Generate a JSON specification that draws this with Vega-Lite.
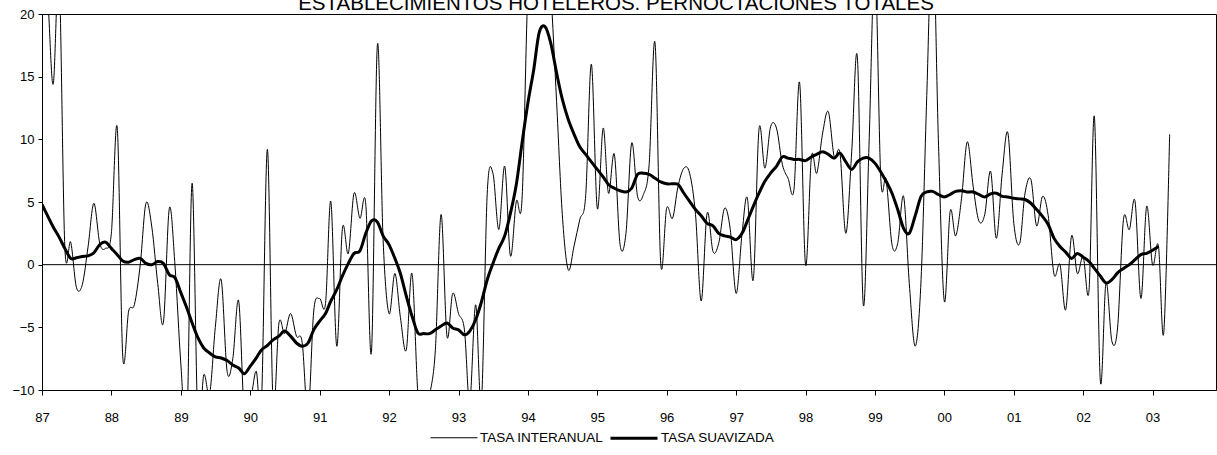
{
"$schema": "https://vega.github.io/schema/vega-lite/v6.json",
"width": 1174, "height": 376,
"autosize": {"type": "none"},
"padding": {"left": 42, "top": 14, "right": 1, "bottom": 65},
"background": "white",
"title": {"text": "ESTABLECIMIENTOS HOTELEROS. PERNOCTACIONES TOTALES", "font": "Liberation Sans", "fontSize": 20.5, "fontWeight": "normal", "color": "black", "anchor": "middle", "dx": -13, "offset": -22, "baseline": "alphabetic"},
"config": {"view": {"stroke": "black", "strokeWidth": 1}, "font": "Liberation Sans"},
"datasets": {"serie": [
{"d":"1987-01-01","TASA INTERANUAL":25,"TASA SUAVIZADA":4.8},
{"d":"1987-02-01","TASA INTERANUAL":21,"TASA SUAVIZADA":3.85},
{"d":"1987-03-01","TASA INTERANUAL":14.4,"TASA SUAVIZADA":3.0},
{"d":"1987-04-01","TASA INTERANUAL":23,"TASA SUAVIZADA":2.2},
{"d":"1987-05-01","TASA INTERANUAL":1.5,"TASA SUAVIZADA":1.3},
{"d":"1987-06-01","TASA INTERANUAL":1.8,"TASA SUAVIZADA":0.5},
{"d":"1987-07-01","TASA INTERANUAL":-1.8,"TASA SUAVIZADA":0.55},
{"d":"1987-08-01","TASA INTERANUAL":-1.6,"TASA SUAVIZADA":0.65},
{"d":"1987-09-01","TASA INTERANUAL":1.5,"TASA SUAVIZADA":0.7},
{"d":"1987-10-01","TASA INTERANUAL":4.9,"TASA SUAVIZADA":0.95},
{"d":"1987-11-01","TASA INTERANUAL":1.7,"TASA SUAVIZADA":1.6},
{"d":"1987-12-01","TASA INTERANUAL":1.3,"TASA SUAVIZADA":1.8},
{"d":"1988-01-01","TASA INTERANUAL":2.5,"TASA SUAVIZADA":1.3},
{"d":"1988-02-01","TASA INTERANUAL":10.9,"TASA SUAVIZADA":0.8},
{"d":"1988-03-01","TASA INTERANUAL":-7.3,"TASA SUAVIZADA":0.3},
{"d":"1988-04-01","TASA INTERANUAL":-3.7,"TASA SUAVIZADA":0.2},
{"d":"1988-05-01","TASA INTERANUAL":-3.2,"TASA SUAVIZADA":0.4},
{"d":"1988-06-01","TASA INTERANUAL":0,"TASA SUAVIZADA":0.5},
{"d":"1988-07-01","TASA INTERANUAL":4.9,"TASA SUAVIZADA":0.1},
{"d":"1988-08-01","TASA INTERANUAL":3.0,"TASA SUAVIZADA":0.0},
{"d":"1988-09-01","TASA INTERANUAL":-1.5,"TASA SUAVIZADA":0.25},
{"d":"1988-10-01","TASA INTERANUAL":-4.6,"TASA SUAVIZADA":0.1},
{"d":"1988-11-01","TASA INTERANUAL":4.5,"TASA SUAVIZADA":-0.8},
{"d":"1988-12-01","TASA INTERANUAL":-0.1,"TASA SUAVIZADA":-1.05},
{"d":"1989-01-01","TASA INTERANUAL":-8.0,"TASA SUAVIZADA":-2.25},
{"d":"1989-02-01","TASA INTERANUAL":-13,"TASA SUAVIZADA":-3.45},
{"d":"1989-03-01","TASA INTERANUAL":6.5,"TASA SUAVIZADA":-4.65},
{"d":"1989-04-01","TASA INTERANUAL":-13,"TASA SUAVIZADA":-5.85},
{"d":"1989-05-01","TASA INTERANUAL":-8.8,"TASA SUAVIZADA":-6.65},
{"d":"1989-06-01","TASA INTERANUAL":-10.3,"TASA SUAVIZADA":-7.05},
{"d":"1989-07-01","TASA INTERANUAL":-5,"TASA SUAVIZADA":-7.35},
{"d":"1989-08-01","TASA INTERANUAL":-1.2,"TASA SUAVIZADA":-7.45},
{"d":"1989-09-01","TASA INTERANUAL":-8.5,"TASA SUAVIZADA":-7.65},
{"d":"1989-10-01","TASA INTERANUAL":-7.5,"TASA SUAVIZADA":-8.0},
{"d":"1989-11-01","TASA INTERANUAL":-2.9,"TASA SUAVIZADA":-8.25},
{"d":"1989-12-01","TASA INTERANUAL":-12,"TASA SUAVIZADA":-8.7},
{"d":"1990-01-01","TASA INTERANUAL":-11,"TASA SUAVIZADA":-8.1},
{"d":"1990-02-01","TASA INTERANUAL":-8.5,"TASA SUAVIZADA":-7.45},
{"d":"1990-03-01","TASA INTERANUAL":-11,"TASA SUAVIZADA":-6.8},
{"d":"1990-04-01","TASA INTERANUAL":9.2,"TASA SUAVIZADA":-6.45},
{"d":"1990-05-01","TASA INTERANUAL":-11,"TASA SUAVIZADA":-6.0},
{"d":"1990-06-01","TASA INTERANUAL":-4.65,"TASA SUAVIZADA":-5.7},
{"d":"1990-07-01","TASA INTERANUAL":-5.5,"TASA SUAVIZADA":-5.3},
{"d":"1990-08-01","TASA INTERANUAL":-3.9,"TASA SUAVIZADA":-5.7},
{"d":"1990-09-01","TASA INTERANUAL":-5.7,"TASA SUAVIZADA":-6.25},
{"d":"1990-10-01","TASA INTERANUAL":-6.2,"TASA SUAVIZADA":-6.5},
{"d":"1990-11-01","TASA INTERANUAL":-12,"TASA SUAVIZADA":-6.25},
{"d":"1990-12-01","TASA INTERANUAL":-3.7,"TASA SUAVIZADA":-5.2},
{"d":"1991-01-01","TASA INTERANUAL":-2.7,"TASA SUAVIZADA":-4.5},
{"d":"1991-02-01","TASA INTERANUAL":-3.1,"TASA SUAVIZADA":-3.9},
{"d":"1991-03-01","TASA INTERANUAL":5.05,"TASA SUAVIZADA":-2.9},
{"d":"1991-04-01","TASA INTERANUAL":-6.5,"TASA SUAVIZADA":-2.0},
{"d":"1991-05-01","TASA INTERANUAL":2.9,"TASA SUAVIZADA":-0.9},
{"d":"1991-06-01","TASA INTERANUAL":0.9,"TASA SUAVIZADA":0.1},
{"d":"1991-07-01","TASA INTERANUAL":5.7,"TASA SUAVIZADA":0.9},
{"d":"1991-08-01","TASA INTERANUAL":3.7,"TASA SUAVIZADA":1.1},
{"d":"1991-09-01","TASA INTERANUAL":4.8,"TASA SUAVIZADA":2.5},
{"d":"1991-10-01","TASA INTERANUAL":-6.9,"TASA SUAVIZADA":3.5},
{"d":"1991-11-01","TASA INTERANUAL":17.55,"TASA SUAVIZADA":3.4},
{"d":"1991-12-01","TASA INTERANUAL":2.0,"TASA SUAVIZADA":2.3},
{"d":"1992-01-01","TASA INTERANUAL":-3.9,"TASA SUAVIZADA":1.6},
{"d":"1992-02-01","TASA INTERANUAL":-0.7,"TASA SUAVIZADA":0.5},
{"d":"1992-03-01","TASA INTERANUAL":-4.2,"TASA SUAVIZADA":-0.7},
{"d":"1992-04-01","TASA INTERANUAL":-6.8,"TASA SUAVIZADA":-2.5},
{"d":"1992-05-01","TASA INTERANUAL":-0.7,"TASA SUAVIZADA":-4.1},
{"d":"1992-06-01","TASA INTERANUAL":-10.3,"TASA SUAVIZADA":-5.45},
{"d":"1992-07-01","TASA INTERANUAL":-13,"TASA SUAVIZADA":-5.5},
{"d":"1992-08-01","TASA INTERANUAL":-10.5,"TASA SUAVIZADA":-5.5},
{"d":"1992-09-01","TASA INTERANUAL":-6.8,"TASA SUAVIZADA":-5.2},
{"d":"1992-10-01","TASA INTERANUAL":4.0,"TASA SUAVIZADA":-4.9},
{"d":"1992-11-01","TASA INTERANUAL":-5.7,"TASA SUAVIZADA":-4.65},
{"d":"1992-12-01","TASA INTERANUAL":-2.3,"TASA SUAVIZADA":-5.05},
{"d":"1993-01-01","TASA INTERANUAL":-3.9,"TASA SUAVIZADA":-5.2},
{"d":"1993-02-01","TASA INTERANUAL":-5.2,"TASA SUAVIZADA":-5.6},
{"d":"1993-03-01","TASA INTERANUAL":-11,"TASA SUAVIZADA":-5.3},
{"d":"1993-04-01","TASA INTERANUAL":-3.2,"TASA SUAVIZADA":-4.4},
{"d":"1993-05-01","TASA INTERANUAL":-11,"TASA SUAVIZADA":-3.0},
{"d":"1993-06-01","TASA INTERANUAL":5.7,"TASA SUAVIZADA":-1.2},
{"d":"1993-07-01","TASA INTERANUAL":7.3,"TASA SUAVIZADA":0.1},
{"d":"1993-08-01","TASA INTERANUAL":2.8,"TASA SUAVIZADA":1.3},
{"d":"1993-09-01","TASA INTERANUAL":7.85,"TASA SUAVIZADA":2.3},
{"d":"1993-10-01","TASA INTERANUAL":0.7,"TASA SUAVIZADA":4.1},
{"d":"1993-11-01","TASA INTERANUAL":5.05,"TASA SUAVIZADA":6.4},
{"d":"1993-12-01","TASA INTERANUAL":5.2,"TASA SUAVIZADA":9.7},
{"d":"1994-01-01","TASA INTERANUAL":22,"TASA SUAVIZADA":12.9},
{"d":"1994-02-01","TASA INTERANUAL":28,"TASA SUAVIZADA":15.6},
{"d":"1994-03-01","TASA INTERANUAL":30,"TASA SUAVIZADA":18.5},
{"d":"1994-04-01","TASA INTERANUAL":28,"TASA SUAVIZADA":19.0},
{"d":"1994-05-01","TASA INTERANUAL":22,"TASA SUAVIZADA":17.7},
{"d":"1994-06-01","TASA INTERANUAL":13,"TASA SUAVIZADA":15.3},
{"d":"1994-07-01","TASA INTERANUAL":4,"TASA SUAVIZADA":13.2},
{"d":"1994-08-01","TASA INTERANUAL":-0.4,"TASA SUAVIZADA":11.6},
{"d":"1994-09-01","TASA INTERANUAL":1.5,"TASA SUAVIZADA":10.4},
{"d":"1994-10-01","TASA INTERANUAL":3.6,"TASA SUAVIZADA":9.4},
{"d":"1994-11-01","TASA INTERANUAL":5.5,"TASA SUAVIZADA":8.8},
{"d":"1994-12-01","TASA INTERANUAL":16.0,"TASA SUAVIZADA":8.2},
{"d":"1995-01-01","TASA INTERANUAL":4.5,"TASA SUAVIZADA":7.6},
{"d":"1995-02-01","TASA INTERANUAL":10.9,"TASA SUAVIZADA":7.0},
{"d":"1995-03-01","TASA INTERANUAL":5.7,"TASA SUAVIZADA":6.4},
{"d":"1995-04-01","TASA INTERANUAL":8.8,"TASA SUAVIZADA":6.1},
{"d":"1995-05-01","TASA INTERANUAL":1.6,"TASA SUAVIZADA":5.9},
{"d":"1995-06-01","TASA INTERANUAL":2.5,"TASA SUAVIZADA":5.8},
{"d":"1995-07-01","TASA INTERANUAL":9.7,"TASA SUAVIZADA":6.1},
{"d":"1995-08-01","TASA INTERANUAL":5.45,"TASA SUAVIZADA":7.2},
{"d":"1995-09-01","TASA INTERANUAL":5.6,"TASA SUAVIZADA":7.3},
{"d":"1995-10-01","TASA INTERANUAL":8,"TASA SUAVIZADA":7.2},
{"d":"1995-11-01","TASA INTERANUAL":17.7,"TASA SUAVIZADA":6.9},
{"d":"1995-12-01","TASA INTERANUAL":0.1,"TASA SUAVIZADA":6.6},
{"d":"1996-01-01","TASA INTERANUAL":4.5,"TASA SUAVIZADA":6.45},
{"d":"1996-02-01","TASA INTERANUAL":3.7,"TASA SUAVIZADA":6.45},
{"d":"1996-03-01","TASA INTERANUAL":6.25,"TASA SUAVIZADA":6.4},
{"d":"1996-04-01","TASA INTERANUAL":7.7,"TASA SUAVIZADA":5.7},
{"d":"1996-05-01","TASA INTERANUAL":7.3,"TASA SUAVIZADA":5.05},
{"d":"1996-06-01","TASA INTERANUAL":4.0,"TASA SUAVIZADA":4.4},
{"d":"1996-07-01","TASA INTERANUAL":-2.9,"TASA SUAVIZADA":3.9},
{"d":"1996-08-01","TASA INTERANUAL":4.1,"TASA SUAVIZADA":3.3},
{"d":"1996-09-01","TASA INTERANUAL":1.05,"TASA SUAVIZADA":3.1},
{"d":"1996-10-01","TASA INTERANUAL":1.7,"TASA SUAVIZADA":2.5},
{"d":"1996-11-01","TASA INTERANUAL":4.5,"TASA SUAVIZADA":2.3},
{"d":"1996-12-01","TASA INTERANUAL":2.8,"TASA SUAVIZADA":2.2},
{"d":"1997-01-01","TASA INTERANUAL":-2.3,"TASA SUAVIZADA":2.0},
{"d":"1997-02-01","TASA INTERANUAL":2.5,"TASA SUAVIZADA":2.5},
{"d":"1997-03-01","TASA INTERANUAL":5.3,"TASA SUAVIZADA":3.5},
{"d":"1997-04-01","TASA INTERANUAL":-1.2,"TASA SUAVIZADA":4.65},
{"d":"1997-05-01","TASA INTERANUAL":10.8,"TASA SUAVIZADA":5.7},
{"d":"1997-06-01","TASA INTERANUAL":7.7,"TASA SUAVIZADA":6.65},
{"d":"1997-07-01","TASA INTERANUAL":11.0,"TASA SUAVIZADA":7.3},
{"d":"1997-08-01","TASA INTERANUAL":10.9,"TASA SUAVIZADA":7.85},
{"d":"1997-09-01","TASA INTERANUAL":8.0,"TASA SUAVIZADA":8.6},
{"d":"1997-10-01","TASA INTERANUAL":6.9,"TASA SUAVIZADA":8.5},
{"d":"1997-11-01","TASA INTERANUAL":6.0,"TASA SUAVIZADA":8.4},
{"d":"1997-12-01","TASA INTERANUAL":14.5,"TASA SUAVIZADA":8.4},
{"d":"1998-01-01","TASA INTERANUAL":0,"TASA SUAVIZADA":8.3},
{"d":"1998-02-01","TASA INTERANUAL":8.6,"TASA SUAVIZADA":8.6},
{"d":"1998-03-01","TASA INTERANUAL":7.3,"TASA SUAVIZADA":8.8},
{"d":"1998-04-01","TASA INTERANUAL":10.5,"TASA SUAVIZADA":9.0},
{"d":"1998-05-01","TASA INTERANUAL":12.2,"TASA SUAVIZADA":8.8},
{"d":"1998-06-01","TASA INTERANUAL":8.6,"TASA SUAVIZADA":8.5},
{"d":"1998-07-01","TASA INTERANUAL":8.9,"TASA SUAVIZADA":8.9},
{"d":"1998-08-01","TASA INTERANUAL":2.5,"TASA SUAVIZADA":8.2},
{"d":"1998-09-01","TASA INTERANUAL":9.0,"TASA SUAVIZADA":7.6},
{"d":"1998-10-01","TASA INTERANUAL":16.5,"TASA SUAVIZADA":8.2},
{"d":"1998-11-01","TASA INTERANUAL":-3.2,"TASA SUAVIZADA":8.5},
{"d":"1998-12-01","TASA INTERANUAL":9.5,"TASA SUAVIZADA":8.5},
{"d":"1999-01-01","TASA INTERANUAL":24,"TASA SUAVIZADA":8.1},
{"d":"1999-02-01","TASA INTERANUAL":6.9,"TASA SUAVIZADA":7.4},
{"d":"1999-03-01","TASA INTERANUAL":6.8,"TASA SUAVIZADA":6.65},
{"d":"1999-04-01","TASA INTERANUAL":1.6,"TASA SUAVIZADA":5.7},
{"d":"1999-05-01","TASA INTERANUAL":1.7,"TASA SUAVIZADA":4.4},
{"d":"1999-06-01","TASA INTERANUAL":5.45,"TASA SUAVIZADA":2.9},
{"d":"1999-07-01","TASA INTERANUAL":-1.5,"TASA SUAVIZADA":2.5},
{"d":"1999-08-01","TASA INTERANUAL":-6.5,"TASA SUAVIZADA":3.9},
{"d":"1999-09-01","TASA INTERANUAL":-1.2,"TASA SUAVIZADA":5.45},
{"d":"1999-10-01","TASA INTERANUAL":13.5,"TASA SUAVIZADA":5.8},
{"d":"1999-11-01","TASA INTERANUAL":27,"TASA SUAVIZADA":5.85},
{"d":"1999-12-01","TASA INTERANUAL":10,"TASA SUAVIZADA":5.6},
{"d":"2000-01-01","TASA INTERANUAL":-2.9,"TASA SUAVIZADA":5.4},
{"d":"2000-02-01","TASA INTERANUAL":4.25,"TASA SUAVIZADA":5.6},
{"d":"2000-03-01","TASA INTERANUAL":2.3,"TASA SUAVIZADA":5.85},
{"d":"2000-04-01","TASA INTERANUAL":5.3,"TASA SUAVIZADA":5.9},
{"d":"2000-05-01","TASA INTERANUAL":9.8,"TASA SUAVIZADA":5.8},
{"d":"2000-06-01","TASA INTERANUAL":6.25,"TASA SUAVIZADA":5.8},
{"d":"2000-07-01","TASA INTERANUAL":3.5,"TASA SUAVIZADA":5.6},
{"d":"2000-08-01","TASA INTERANUAL":4.0,"TASA SUAVIZADA":5.4},
{"d":"2000-09-01","TASA INTERANUAL":7.45,"TASA SUAVIZADA":5.65},
{"d":"2000-10-01","TASA INTERANUAL":2.1,"TASA SUAVIZADA":5.7},
{"d":"2000-11-01","TASA INTERANUAL":7.3,"TASA SUAVIZADA":5.45},
{"d":"2000-12-01","TASA INTERANUAL":10.5,"TASA SUAVIZADA":5.4},
{"d":"2001-01-01","TASA INTERANUAL":3.3,"TASA SUAVIZADA":5.3},
{"d":"2001-02-01","TASA INTERANUAL":1.7,"TASA SUAVIZADA":5.25},
{"d":"2001-03-01","TASA INTERANUAL":5.7,"TASA SUAVIZADA":5.2},
{"d":"2001-04-01","TASA INTERANUAL":6.8,"TASA SUAVIZADA":4.9},
{"d":"2001-05-01","TASA INTERANUAL":3.1,"TASA SUAVIZADA":4.4},
{"d":"2001-06-01","TASA INTERANUAL":5.45,"TASA SUAVIZADA":3.85},
{"d":"2001-07-01","TASA INTERANUAL":3.9,"TASA SUAVIZADA":3.2},
{"d":"2001-08-01","TASA INTERANUAL":-0.8,"TASA SUAVIZADA":2.1},
{"d":"2001-09-01","TASA INTERANUAL":0,"TASA SUAVIZADA":1.45},
{"d":"2001-10-01","TASA INTERANUAL":-3.6,"TASA SUAVIZADA":1.0},
{"d":"2001-11-01","TASA INTERANUAL":2.3,"TASA SUAVIZADA":0.5},
{"d":"2001-12-01","TASA INTERANUAL":-0.7,"TASA SUAVIZADA":0.9},
{"d":"2002-01-01","TASA INTERANUAL":0.65,"TASA SUAVIZADA":0.6},
{"d":"2002-02-01","TASA INTERANUAL":-2.0,"TASA SUAVIZADA":0.25},
{"d":"2002-03-01","TASA INTERANUAL":11.8,"TASA SUAVIZADA":-0.3},
{"d":"2002-04-01","TASA INTERANUAL":-9.2,"TASA SUAVIZADA":-0.9},
{"d":"2002-05-01","TASA INTERANUAL":-1.45,"TASA SUAVIZADA":-1.45},
{"d":"2002-06-01","TASA INTERANUAL":-6.1,"TASA SUAVIZADA":-1.2},
{"d":"2002-07-01","TASA INTERANUAL":-5.05,"TASA SUAVIZADA":-0.65},
{"d":"2002-08-01","TASA INTERANUAL":3.6,"TASA SUAVIZADA":-0.3},
{"d":"2002-09-01","TASA INTERANUAL":2.8,"TASA SUAVIZADA":0.0},
{"d":"2002-10-01","TASA INTERANUAL":5.05,"TASA SUAVIZADA":0.4},
{"d":"2002-11-01","TASA INTERANUAL":-2.7,"TASA SUAVIZADA":0.8},
{"d":"2002-12-01","TASA INTERANUAL":4.65,"TASA SUAVIZADA":0.9},
{"d":"2003-01-01","TASA INTERANUAL":0,"TASA SUAVIZADA":1.15},
{"d":"2003-02-01","TASA INTERANUAL":1.5,"TASA SUAVIZADA":1.45},
{"d":"2003-03-01","TASA INTERANUAL":-5.45},
{"d":"2003-04-01","TASA INTERANUAL":10.4}
], "cero": [{"z": 0}]},
"layer": [
{"data": {"name": "cero"},
 "mark": {"type": "rule", "color": "black", "strokeWidth": 1},
 "encoding": {"y": {"field": "z", "type": "quantitative", "scale": {"domain": [-10, 20], "nice": false, "zero": false},
   "axis": {"title": null, "values": [-10, -5, 0, 5, 10, 15, 20], "grid": false, "tickSize": 4, "labelPadding": 4, "labelFontSize": 13, "labelFont": "Liberation Sans", "labelColor": "black", "domainColor": "black", "tickColor": "black"}}}},
{"data": {"name": "serie"},
 "transform": [{"fold": ["TASA INTERANUAL", "TASA SUAVIZADA"], "as": ["serie", "v"]}],
 "mark": {"type": "line", "interpolate": "cardinal", "clip": true, "color": "black"},
 "encoding": {
  "x": {"field": "d", "type": "temporal",
    "scale": {"type": "utc", "domain": [{"year": 1987, "month": 1, "date": 1, "utc": true}, {"year": 2003, "month": 12, "date": 1, "utc": true}]},
    "axis": {"title": null, "tickCount": {"interval": "year", "step": 1}, "labelExpr": "utcFormat(datum.value, '%y')", "grid": false, "tickSize": 5, "labelPadding": 16, "labelFontSize": 13, "labelFont": "Liberation Sans", "labelColor": "black", "domainColor": "black", "tickColor": "black", "labelFlush": false, "labelOverlap": false, "labelBound": false}},
  "y": {"field": "v", "type": "quantitative", "scale": {"domain": [-10, 20], "nice": false, "zero": false},
    "axis": {"title": null, "values": [-10, -5, 0, 5, 10, 15, 20], "grid": false, "tickSize": 4, "labelPadding": 4, "labelFontSize": 13, "labelFont": "Liberation Sans", "labelColor": "black", "domainColor": "black", "tickColor": "black"}},
  "strokeWidth": {"field": "serie", "type": "ordinal",
    "scale": {"type": "point", "padding": 0, "domain": ["TASA INTERANUAL", "TASA SUAVIZADA"], "range": [1, 3]},
    "legend": {"title": null, "orient": "none", "legendX": 388, "legendY": 399, "direction": "horizontal", "symbolType": "stroke", "symbolSize": 2209, "symbolStrokeColor": "black", "labelFontSize": 13.5, "labelFont": "Liberation Sans", "labelColor": "black", "labelOffset": 2, "columnPadding": 0, "padding": 0}}
 }}
]
}
